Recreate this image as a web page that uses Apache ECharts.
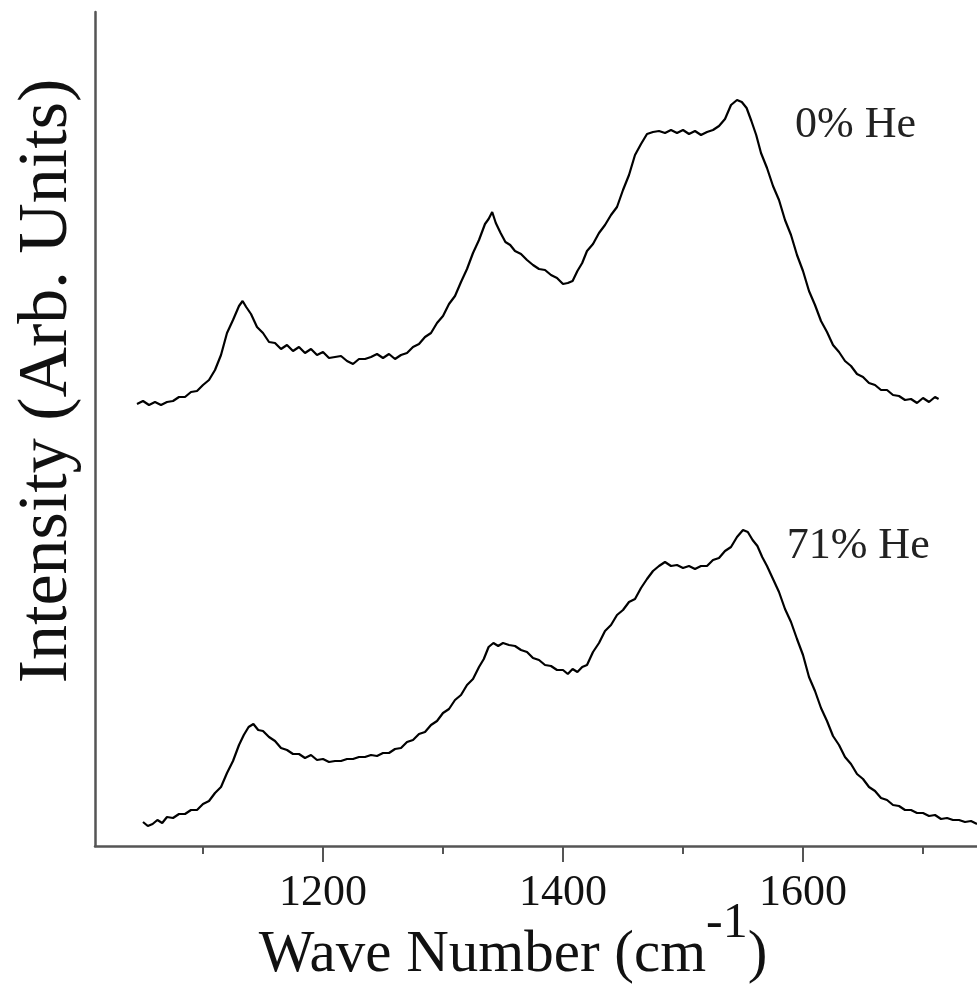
<!DOCTYPE html>
<html>
<head>
<meta charset="utf-8">
<script src="https://cdn.jsdelivr.net/npm/echarts@6/dist/echarts.min.js"></script>
<style>html,body{margin:0;padding:0;background:#fff}#c{width:977px;height:990px}</style>
</head>
<body>
<div id="c"></div>
<script>
// Wave numbers (cm^-1) and intensities (arb. units)
const spectrum0 = [[1045,442],[1050,445],[1055,441],[1060,444],[1065,441],[1070,444],[1075,445],[1080,449],[1085,449],[1090,454],[1095,455],[1100,461],[1105,466],[1110,476],[1115,491],[1120,513],[1125,526],[1130,540],[1133,545],[1136,539],[1140,532],[1145,519],[1150,513],[1155,504],[1160,503],[1165,497],[1170,501],[1175,495],[1180,499],[1185,493],[1190,497],[1195,491],[1200,494],[1205,488],[1210,489],[1215,490],[1220,485],[1225,482],[1230,487],[1235,487],[1240,489],[1245,492],[1250,488],[1255,492],[1260,487],[1265,491],[1270,493],[1275,499],[1280,502],[1285,509],[1290,513],[1295,523],[1300,530],[1305,542],[1310,550],[1315,564],[1320,577],[1325,593],[1330,606],[1335,622],[1338,627],[1341,634],[1344,623],[1348,613],[1352,604],[1356,601],[1360,595],[1365,592],[1370,586],[1375,581],[1380,577],[1385,576],[1390,571],[1395,568],[1400,562],[1404,563],[1408,565],[1412,575],[1416,583],[1420,595],[1425,602],[1430,613],[1435,621],[1440,631],[1445,639],[1450,656],[1455,671],[1460,691],[1465,702],[1470,712],[1475,714],[1480,715],[1485,713],[1490,716],[1495,713],[1500,716],[1505,712],[1510,715],[1515,711],[1520,714],[1525,716],[1530,720],[1535,727],[1540,741],[1545,746],[1549,744],[1553,738],[1557,725],[1561,711],[1565,693],[1570,678],[1575,660],[1580,646],[1585,626],[1590,611],[1595,591],[1600,575],[1605,555],[1610,541],[1615,525],[1620,514],[1625,501],[1630,494],[1635,485],[1640,480],[1645,472],[1650,469],[1655,463],[1660,461],[1665,456],[1670,456],[1675,451],[1680,450],[1685,446],[1690,447],[1695,443],[1700,448],[1705,444],[1710,449],[1713,447]];

const spectrum71 = [[1050,24],[1054,20],[1058,22],[1062,26],[1066,23],[1070,29],[1075,28],[1080,32],[1085,32],[1090,36],[1095,36],[1100,42],[1105,45],[1110,53],[1115,59],[1120,73],[1125,85],[1130,101],[1134,111],[1138,119],[1142,122],[1146,116],[1150,115],[1155,109],[1160,105],[1165,98],[1170,96],[1175,92],[1180,92],[1185,88],[1190,91],[1195,86],[1200,87],[1205,84],[1210,85],[1215,85],[1220,87],[1225,87],[1230,89],[1235,89],[1240,91],[1245,90],[1250,93],[1255,93],[1260,97],[1265,98],[1270,104],[1275,106],[1280,112],[1285,114],[1290,121],[1295,125],[1300,133],[1305,137],[1310,146],[1315,151],[1320,161],[1325,167],[1330,179],[1334,187],[1338,199],[1342,203],[1346,200],[1350,203],[1355,201],[1360,200],[1365,196],[1370,194],[1375,188],[1380,186],[1385,181],[1390,180],[1395,176],[1400,176],[1404,172],[1408,177],[1412,174],[1416,179],[1420,181],[1425,194],[1430,203],[1435,215],[1440,221],[1445,231],[1450,236],[1455,244],[1460,247],[1465,258],[1470,267],[1475,275],[1480,280],[1485,284],[1490,280],[1495,281],[1500,278],[1505,280],[1510,277],[1515,280],[1520,280],[1525,286],[1530,288],[1535,295],[1540,299],[1545,309],[1550,316],[1554,314],[1558,306],[1562,300],[1566,289],[1570,280],[1575,267],[1580,254],[1585,237],[1590,224],[1595,207],[1600,191],[1605,169],[1610,155],[1615,138],[1620,125],[1625,110],[1630,101],[1635,89],[1640,82],[1645,72],[1650,67],[1655,59],[1660,55],[1665,48],[1670,46],[1675,41],[1680,40],[1685,36],[1690,36],[1695,33],[1700,33],[1705,30],[1710,31],[1715,27],[1720,28],[1725,26],[1730,26],[1735,24],[1740,25],[1745,22]];

const seriesNames = ['0% He', '71% He'];
const majorTicks = [1200, 1400, 1600];
const minorTicks = [1100, 1300, 1500, 1700];
const xTitle = 'Wave Number (cm';
const xTitleSup = '-1';
const yTitle = 'Intensity (Arb. Units)';

// label anchors (in data units)
const labelAnchors = [[1593, 721], [1586, 300]];

const serif = "'Liberation Serif','Times New Roman',serif";
const axisColor = '#555';

const chart = echarts.init(document.getElementById('c'), null, {renderer: 'canvas'});
const option = {
  animation: false,
  backgroundColor: '#fff',
  grid: {left: 95, right: 0, top: 12, bottom: 144, containLabel: false, outerBoundsMode: 'none'},
  xAxis: [{
    type: 'value', min: 1010, max: 1745,
    axisLine: {show: true, lineStyle: {color: axisColor, width: 2.5}},
    axisTick: {show: true, customValues: majorTicks, length: 16, lineStyle: {color: axisColor, width: 2}},
    axisLabel: {show: true, customValues: majorTicks, margin: 25, fontFamily: serif, fontSize: 44, color: '#111',
      formatter: v => String(v)},
    splitLine: {show: false},
    name: '{a|' + xTitle + '}{s|' + xTitleSup + '}{a|)}',
    nameLocation: 'middle', nameGap: 53, nameMoveOverlap: false,
    nameTextStyle: {
      fontFamily: serif, color: '#111', padding: [0, 46, 0, 0],
      rich: {
        a: {fontFamily: serif, fontSize: 59, color: '#111', lineHeight: 86, verticalAlign: 'bottom'},
        s: {fontFamily: serif, fontSize: 50, color: '#111', lineHeight: 86, verticalAlign: 'top'}
      }
    }
  }, {
    type: 'value', min: 1010, max: 1745, position: 'bottom',
    axisLine: {show: false},
    axisTick: {show: true, customValues: minorTicks, length: 8, lineStyle: {color: axisColor, width: 2}},
    axisLabel: {show: false},
    splitLine: {show: false}
  }],
  yAxis: {
    type: 'value', min: 0, max: 834,
    axisLine: {show: true, lineStyle: {color: axisColor, width: 2.5}},
    axisTick: {show: false},
    axisLabel: {show: false},
    splitLine: {show: false},
    name: yTitle, nameLocation: 'middle', nameGap: 12, nameMoveOverlap: false,
    nameTextStyle: {fontFamily: serif, fontSize: 70, color: '#111', padding: [0, 0, 0, 96]}
  },
  series: [spectrum0, spectrum71].map((d, i) => ({
    type: 'line', name: seriesNames[i], data: d, xAxisIndex: 0,
    showSymbol: false, symbol: 'none',
    lineStyle: {color: '#000', width: 2.2},
    markPoint: {
      symbol: 'rect', symbolSize: 1, itemStyle: {color: 'rgba(0,0,0,0)'},
      label: {show: true, position: 'right', distance: 0, formatter: '{b}', fontFamily: serif, fontSize: 44, color: '#222'},
      data: [{name: seriesNames[i], coord: labelAnchors[i]}]
    }
  }))
};
chart.setOption(option);
</script>
</body>
</html>
